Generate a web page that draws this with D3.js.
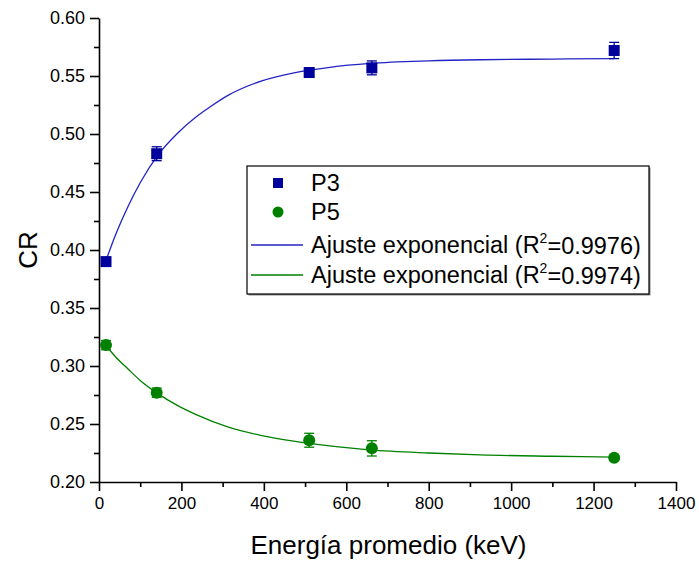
<!DOCTYPE html>
<html>
<head>
<meta charset="utf-8">
<script src="https://cdn.jsdelivr.net/npm/d3@7"></script>
<style>
  body { margin: 0; background: #fff; }
  text { font-family: "Liberation Sans", Arial, sans-serif; fill: #000; }
  .axis path, .axis line { stroke: #000; stroke-width: 1.6; }
</style>
</head>
<body>
<svg id="chart" width="699" height="561"></svg>
<script>
// measured points (energy in keV, CR value, error)
const energy = [17, 140, 510, 662, 1250];
const p3 = [0.390, 0.483, 0.553, 0.557, 0.572];
const p3Err = [0.003, 0.006, 0.004, 0.006, 0.007];
const p5 = [0.318, 0.277, 0.236, 0.229, 0.221];
const p5Err = [0.004, 0.004, 0.006, 0.0066, 0.002];

// exponential fit curves
const fit3X = [17, 40, 71, 100, 141, 190, 233, 270, 314, 395, 476, 560, 658, 800, 925, 1100, 1250];
const fit3Y = [0.391, 0.413, 0.438, 0.458, 0.481, 0.5005, 0.514, 0.5235, 0.5335, 0.5458, 0.553, 0.5575, 0.5608, 0.563, 0.564, 0.5646, 0.5649];
const fit5X = [17, 40, 71, 100, 141, 190, 233, 314, 395, 476, 560, 658, 800, 925, 1100, 1250];
const fit5Y = [0.3177, 0.308, 0.2972, 0.2875, 0.2766, 0.266, 0.2585, 0.2473, 0.24, 0.235, 0.2312, 0.2277, 0.225, 0.2234, 0.2222, 0.2214];

const xTicks = [0, 200, 400, 600, 800, 1000, 1200, 1400];
const yTicks = [0.20, 0.25, 0.30, 0.35, 0.40, 0.45, 0.50, 0.55, 0.60];

const legendLabels = ["P3", "P5", "Ajuste exponencial (R", "Ajuste exponencial (R"];
const legendR2 = ["0.9976", "0.9974"];

const blue = "#00009c", blueLine = "#2323c4", green = "#008000";

const margin = {top: 18, right: 23, bottom: 79, left: 99},
  svgWidth = 699, svgHeight = 561,
  width = svgWidth - margin.left - margin.right,
  height = svgHeight - margin.top - margin.bottom;

const svg = d3.select("#chart");
const g = svg.append("g").attr("transform", "translate(" + margin.left + "," + margin.top + ")");

const x = d3.scaleLinear().domain([0, 1400]).range([0, width]);
const y = d3.scaleLinear().domain([0.20, 0.60]).range([height, 0]);

// minor ticks first
g.append("g")
    .attr("class", "axis")
    .attr("transform", "translate(0," + height + ")")
    .call(d3.axisBottom(x).tickValues(d3.range(100, 1400, 200)).tickSize(5).tickFormat(""))
  .select(".domain").remove();
g.append("g")
    .attr("class", "axis")
    .call(d3.axisLeft(y).tickValues(d3.range(0.225, 0.6, 0.05)).tickSize(5).tickFormat(""))
  .select(".domain").remove();

const xAxis = g.append("g")
    .attr("class", "axis")
    .attr("transform", "translate(0," + height + ")")
    .call(d3.axisBottom(x).tickValues(xTicks).tickSize(9).tickSizeOuter(0).tickPadding(6)
      .tickFormat(d3.format("d")));
xAxis.selectAll("text").attr("font-size", 17);

const yAxis = g.append("g")
    .attr("class", "axis")
    .call(d3.axisLeft(y).tickValues(yTicks).tickSize(9).tickSizeOuter(0).tickPadding(5)
      .tickFormat(d3.format(".2f")));
yAxis.selectAll("text").attr("font-size", 18);

g.append("text")
    .attr("x", width / 2 + 1)
    .attr("y", height + 72)
    .attr("text-anchor", "middle")
    .attr("font-size", 26)
    .text("Energía promedio (keV)");

g.append("text")
    .attr("transform", "translate(" + (-62) + "," + (height / 2) + ") rotate(-90)")
    .attr("text-anchor", "middle")
    .attr("font-size", 26)
    .text("CR");

// fit lines
const line = d3.line()
  .x(function(d) { return x(d[0]); })
  .y(function(d) { return y(d[1]); })
  .curve(d3.curveMonotoneX);

g.append("path")
    .datum(d3.zip(fit3X, fit3Y))
    .attr("fill", "none")
    .attr("stroke", blueLine)
    .attr("stroke-width", 1.3)
    .attr("d", line);
g.append("path")
    .datum(d3.zip(fit5X, fit5Y))
    .attr("fill", "none")
    .attr("stroke", green)
    .attr("stroke-width", 1.3)
    .attr("d", line);

function errorBars(vals, errs, color) {
  const eb = g.append("g").attr("stroke", color).attr("stroke-width", 1.3);
  energy.forEach(function(e, i) {
    const cx = x(e), top = y(vals[i] + errs[i]), bot = y(vals[i] - errs[i]);
    eb.append("line").attr("x1", cx).attr("x2", cx).attr("y1", top).attr("y2", bot);
    eb.append("line").attr("x1", cx - 5).attr("x2", cx + 5).attr("y1", top).attr("y2", top);
    eb.append("line").attr("x1", cx - 5).attr("x2", cx + 5).attr("y1", bot).attr("y2", bot);
  });
}
errorBars(p3, p3Err, blue);
errorBars(p5, p5Err, green);

g.append("g").selectAll("rect")
  .data(d3.zip(energy, p3))
  .enter().append("rect")
    .attr("x", function(d) { return x(d[0]) - 5.5; })
    .attr("y", function(d) { return y(d[1]) - 5.5; })
    .attr("width", 11)
    .attr("height", 11)
    .attr("fill", blue);

g.append("g").selectAll("circle")
  .data(d3.zip(energy, p5))
  .enter().append("circle")
    .attr("cx", function(d) { return x(d[0]); })
    .attr("cy", function(d) { return y(d[1]); })
    .attr("r", 6)
    .attr("fill", green);

// legend
const lg = svg.append("g").attr("transform", "translate(247,166)");
lg.append("rect")
    .attr("x", 1.5).attr("y", 1.5)
    .attr("width", 402).attr("height", 128)
    .attr("fill", "#888");
lg.append("rect")
    .attr("width", 402).attr("height", 128)
    .attr("fill", "#fff")
    .attr("stroke", "#000")
    .attr("stroke-width", 1.2);

const rowY = [17, 46, 79, 109];
lg.append("rect").attr("x", 26).attr("y", rowY[0] - 5).attr("width", 10).attr("height", 10).attr("fill", blue);
lg.append("circle").attr("cx", 31).attr("cy", rowY[1]).attr("r", 5.5).attr("fill", green);
lg.append("line").attr("x1", 4).attr("x2", 56).attr("y1", rowY[2]).attr("y2", rowY[2])
  .attr("stroke", blueLine).attr("stroke-width", 1.3);
lg.append("line").attr("x1", 4).attr("x2", 56).attr("y1", rowY[3]).attr("y2", rowY[3])
  .attr("stroke", green).attr("stroke-width", 1.3);

legendLabels.forEach(function(lbl, i) {
  const t = lg.append("text")
    .attr("x", 64)
    .attr("y", rowY[i])
    .attr("dy", "0.36em")
    .attr("font-size", 23.5)
    .text(lbl);
  if (i >= 2) {
    t.append("tspan").attr("font-size", 14).attr("dy", "-0.75em").text("2");
    t.append("tspan").attr("dy", "0.48em").text("=" + legendR2[i - 2] + ")");
  }
});
</script>
</body>
</html>
